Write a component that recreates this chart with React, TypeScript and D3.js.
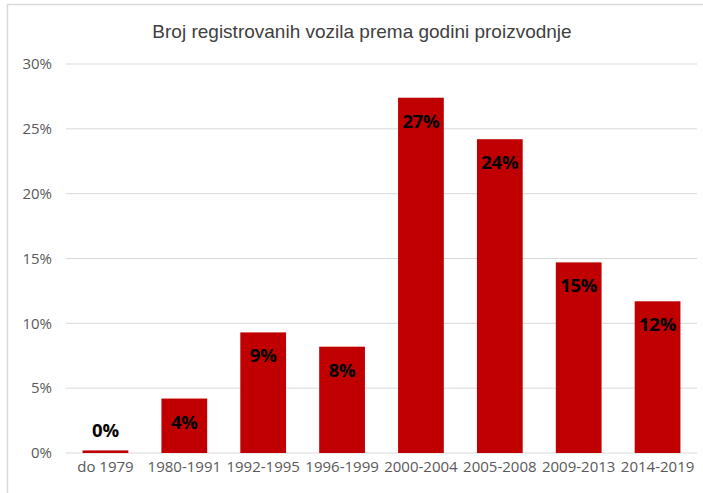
import * as d3 from "d3";
import { useEffect, useRef } from "react";

const categories = ["do 1979", "1980-1991", "1992-1995", "1996-1999", "2000-2004", "2005-2008", "2009-2013", "2014-2019"];
const values = [0.2, 4.2, 9.3, 8.2, 27.4, 24.2, 14.7, 11.7];
const valueLabels = ["0%", "4%", "9%", "8%", "27%", "24%", "15%", "12%"];
const yTicks = [0, 5, 10, 15, 20, 25, 30];

const width = 703;
const height = 493;
const margin = { top: 64, right: 6, bottom: 40, left: 66 };

export default function App() {
    const svgRef = useRef<SVGSVGElement>(null);

    useEffect(() => {
        const svg = d3.select(svgRef.current);
        svg.selectAll("*").remove();

        const innerWidth = width - margin.left - margin.right;
        const innerHeight = height - margin.top - margin.bottom;

        // chart border
        svg.append("rect")
            .attr("x", 7.5).attr("y", 4.5)
            .attr("width", width).attr("height", height)
            .attr("fill", "white")
            .attr("stroke", "#d9d9d9")
            .attr("stroke-width", 1.5);

        svg.append("text")
            .attr("x", 362).attr("y", 38)
            .attr("text-anchor", "middle")
            .attr("font-family", "'Liberation Sans Narrow', 'Liberation Sans', Arial, sans-serif")
            .attr("font-size", 19)
            .attr("fill", "#404040")
            .text("Broj registrovanih vozila prema godini proizvodnje");

        const g = svg.append("g")
            .attr("transform", `translate(${margin.left},${margin.top})`);

        const x = d3.scaleBand<string>()
            .domain(categories)
            .range([0, innerWidth])
            .paddingInner(0.42)
            .paddingOuter(0.21);

        const y = d3.scaleLinear()
            .domain([0, 30])
            .range([innerHeight, 0]);

        // gridlines
        g.append("g")
            .selectAll("line")
            .data(yTicks)
            .join("line")
            .attr("x1", 0).attr("x2", innerWidth)
            .attr("y1", d => y(d)).attr("y2", d => y(d))
            .attr("stroke", "#d9d9d9")
            .attr("stroke-width", 1);

        // y axis labels
        const yAxis = g.append("g")
            .call(d3.axisLeft(y).tickValues(yTicks).tickSize(0).tickPadding(14).tickFormat(d => `${d}%`));
        yAxis.select(".domain").remove();
        yAxis.selectAll("text")
            .attr("font-family", "'Liberation Sans Narrow', 'Open Sans', sans-serif")
            .attr("font-size", 15)
            .attr("fill", "#595959");

        // x axis labels
        const xAxis = g.append("g")
            .attr("transform", `translate(0,${innerHeight})`)
            .call(d3.axisBottom(x).tickSize(0).tickPadding(8));
        xAxis.select(".domain").remove();
        xAxis.selectAll("text")
            .attr("font-family", "'Liberation Sans Narrow', 'Open Sans', sans-serif")
            .attr("font-size", 15)
            .attr("fill", "#595959");

        // bars
        g.append("g")
            .selectAll("rect")
            .data(values)
            .join("rect")
            .attr("x", (_, i) => x(categories[i])!)
            .attr("width", x.bandwidth())
            .attr("y", d => y(d))
            .attr("height", d => innerHeight - y(d))
            .attr("fill", "#c00000");

        // value labels
        g.append("g")
            .selectAll("text")
            .data(values)
            .join("text")
            .attr("x", (_, i) => x(categories[i])! + x.bandwidth() / 2)
            .attr("y", d => d < 2 ? y(d) - 13 : y(d) + 30)
            .attr("text-anchor", "middle")
            .attr("font-family", "'Open Sans', 'Liberation Sans', sans-serif")
            .attr("font-weight", "bold")
            .attr("font-size", 18.5)
            .attr("letter-spacing", -0.3)
            .attr("fill", "#000")
            .text((_, i) => valueLabels[i]);
    }, []);

    return (
        <>
            <style>{"body{margin:0}"}</style>
            <svg ref={svgRef} width={width} height={height} style={{ display: "block" }} />
        </>
    );
}
